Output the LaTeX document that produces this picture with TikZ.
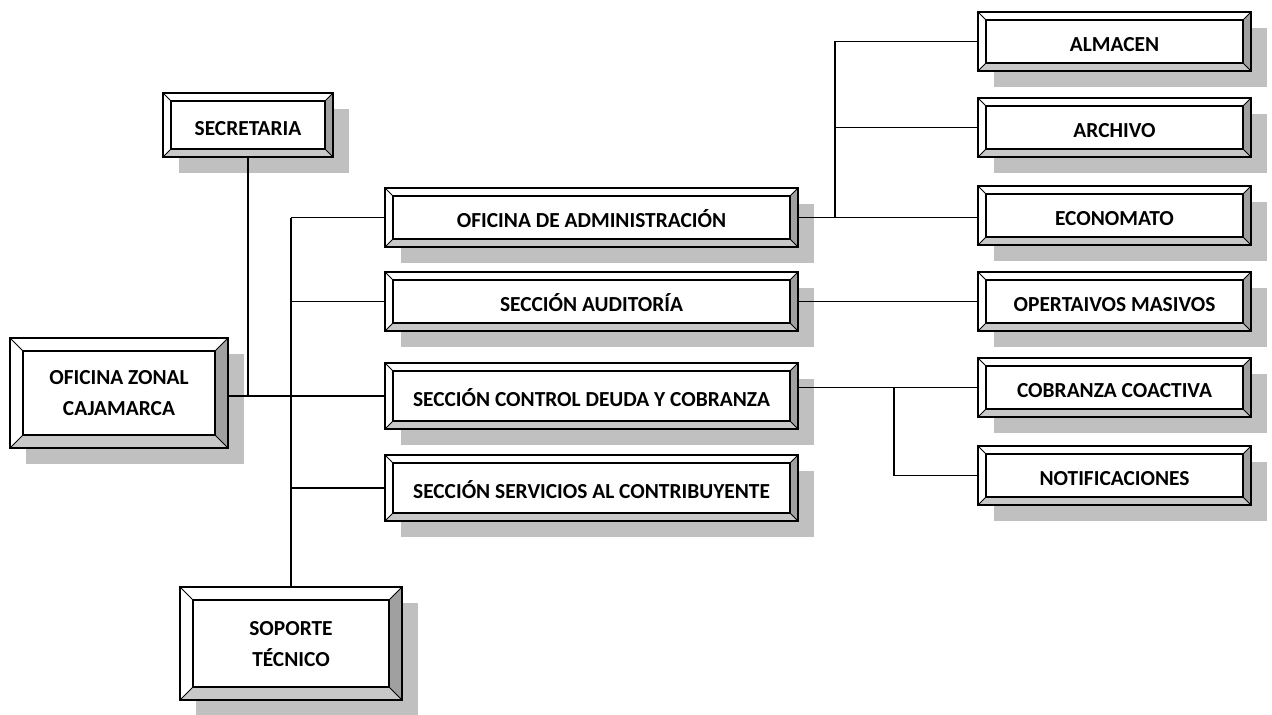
\documentclass[tikz,border=0pt]{standalone}
\usepackage{fontspec}
\setmainfont{Carlito}
\usetikzlibrary{shadows}
\definecolor{shadowgray}{HTML}{C0C0C0}
\definecolor{bevelright}{HTML}{A0A0A0}
\definecolor{bevelbottom}{HTML}{C8C8C8}
\newcommand{\boxfont}{\fontsize{10.7}{15.5}\selectfont\bfseries}
\tikzset{
  bevelbox/.style={draw, line width=1.1pt, fill=white, font=\boxfont,
    inner sep=0pt,
    drop shadow={shadow xshift=8pt, shadow yshift=-8pt, fill=shadowgray, opacity=1},
    path picture={
      \coordinate (bbsw) at (path picture bounding box.south west);
      \coordinate (bbse) at (path picture bounding box.south east);
      \coordinate (bbne) at (path picture bounding box.north east);
      \coordinate (bbnw) at (path picture bounding box.north west);
      \fill[bevelright] (bbne) -- (bbse) -- ([shift={(-#1,#1)}]bbse) -- ([shift={(-#1,-#1)}]bbne) -- cycle;
      \fill[bevelbottom] (bbsw) -- (bbse) -- ([shift={(-#1,#1)}]bbse) -- ([shift={(#1,#1)}]bbsw) -- cycle;
      \draw[line width=1pt] ([shift={(#1,#1)}]bbsw) rectangle ([shift={(-#1,-#1)}]bbne);
      \draw[line width=0.5pt] (bbsw) -- ([shift={(#1,#1)}]bbsw) (bbse) -- ([shift={(-#1,#1)}]bbse)
        (bbne) -- ([shift={(-#1,-#1)}]bbne) (bbnw) -- ([shift={(#1,-#1)}]bbnw);
    }},
  smallbox/.style={bevelbox=4pt, text height=10pt, text depth=0pt},
  bigbox/.style={bevelbox=6.5pt, align=center, text depth=0pt},
  midbox/.style={smallbox, minimum width=206.5pt},
  sidebox/.style={smallbox, minimum width=136.5pt, minimum height=29.5pt},
  link/.style={line width=0.8pt},
}
\begin{document}
\begin{tikzpicture}[x=0.5pt,y=-0.5pt]
\useasboundingbox (0,0) rectangle (1272,714);
% left side
\node[smallbox, minimum width=85pt, minimum height=32pt] (sec) at (248,125) {SECRETARIA};
\node[bigbox, minimum width=109pt, minimum height=55pt] (zon) at (119,393) {OFICINA ZONAL\\CAJAMARCA};
\node[bigbox, minimum width=111pt, minimum height=56.5pt] (sop) at (291,643.5) {SOPORTE\\TÉCNICO};
% middle column
\node[midbox, minimum height=29.5pt] (adm) at (591.5,217.5) {OFICINA DE ADMINISTRACIÓN};
\node[midbox, minimum height=29.5pt] (aud) at (591.5,301.5) {SECCIÓN AUDITORÍA};
\node[midbox, minimum height=33pt] (ctl) at (591.5,396) {SECCIÓN CONTROL DEUDA Y COBRANZA};
\node[midbox, minimum height=33pt] (srv) at (591.5,488) {SECCIÓN SERVICIOS AL CONTRIBUYENTE};
% right column
\node[sidebox] (alm) at (1114.5,41.5) {ALMACEN};
\node[sidebox] (arc) at (1114.5,127.5) {ARCHIVO};
\node[sidebox] (eco) at (1114.5,215.5) {ECONOMATO};
\node[sidebox] (ope) at (1114.5,301.5) {OPERTAIVOS MASIVOS};
\node[sidebox] (cob) at (1114.5,387.5) {COBRANZA COACTIVA};
\node[sidebox] (not) at (1114.5,475.5) {NOTIFICACIONES};
% connectors
\coordinate (admfork) at (835,217.5);
\coordinate (ctlfork) at (894,387.5);
\draw[link] (sec.south) -- (sec.south |- ctl.west);
\draw[link] (zon.east |- ctl.west) -- (ctl.west);
\draw[link] (sop.north |- adm.west) -- (sop.north);
\draw[link] (sop.north |- adm.west) -- (adm.west);
\draw[link] (sop.north |- aud.west) -- (aud.west);
\draw[link] (sop.north |- srv.west) -- (srv.west);
\draw[link] (adm.east) -- (eco.west |- adm.east);
\draw[link] (admfork) |- (alm.west);
\draw[link] (admfork) |- (arc.west);
\draw[link] (aud.east) -- (ope.west);
\draw[link] (ctl.east |- cob.west) -- (cob.west);
\draw[link] (ctlfork) |- (not.west);
\end{tikzpicture}
\end{document}
